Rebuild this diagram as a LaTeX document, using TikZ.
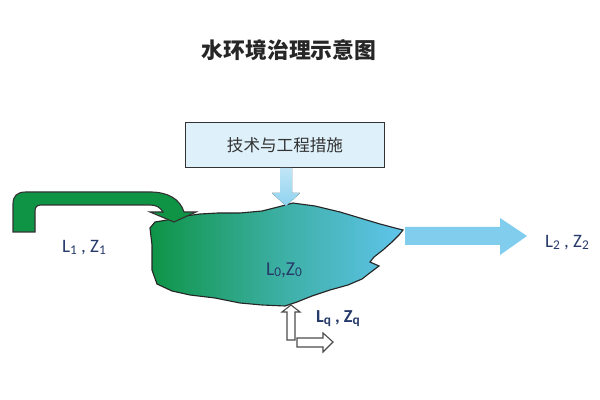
\documentclass[tikz,border=0pt]{standalone}
\usepackage{fontspec}
\setmainfont{Carlito}
\newfontfamily\cjk{Noto Sans CJK SC}
\usetikzlibrary{positioning}
\definecolor{navy}{RGB}{38,58,105}
\definecolor{lakegreen}{RGB}{14,148,70}
\definecolor{lakeblue}{RGB}{96,196,236}
\definecolor{flowgreen}{RGB}{14,148,68}
\definecolor{flowblue}{RGB}{128,205,238}
\definecolor{boxblue}{RGB}{222,240,249}
\newcommand{\lowidx}[1]{\raisebox{-0.2ex}{\fontsize{9.5}{9.5}\selectfont #1}}

\begin{document}
\begin{tikzpicture}[x=0.025cm,y=-0.025cm]
			\tikzset{label/.style = {text=navy, font=\fontsize{13.5}{15}\selectfont}}
			\tikzset{hollow/.style = {draw=black!70, fill=white, line width=0.8pt}}
			\tikzset{measure/.style = {draw=black!80, fill=boxblue, line width=0.8pt,
					minimum width=142pt, minimum height=32pt, inner sep=0pt}}
		\useasboundingbox (0,0) rectangle (600,400);

		% nodes
		\node[font=\cjk\bfseries\fontsize{15.5}{18}\selectfont, text=black!85] (title) at (289,50) {水环境治理示意图};
		\node[measure, font=\cjk\fontsize{11.8}{14}\selectfont, text=black!80] (measures) at (285,145) {技术与工程措施};

		% lake
		\draw[black!85, line width=0.8pt, left color=lakegreen, right color=lakeblue,
			middle color=lakegreen!45!lakeblue]
			(155,222) -- (173,219) -- (185,216) -- (200,214) -- (218,213) -- (240,213)
			-- (262,211) -- (278,207) -- (293,203) -- (300,204) -- (315,206) -- (340,212)
			-- (360,218) -- (380,224) -- (395,228) -- (403,230) -- (399,235) -- (392,242)
			-- (383,250) -- (374,257) -- (370,262) -- (379,266) -- (371,272) -- (362,279)
			-- (348,285) -- (330,290) -- (312,296) -- (297,302) -- (285,306) -- (262,305)
			-- (240,303) -- (215,298) -- (190,295) -- (172,291) -- (157,284) -- (152,270)
			-- (152,245) -- (150,228) -- cycle;
		\node[text=navy, font=\fontsize{14}{16}\selectfont] (lake) at (284,270) {L\lowidx{0},Z\lowidx{0}};

		% inflow
		\draw[black!80, line width=0.8pt, fill=flowgreen]
			(13,232) -- (13,204) .. controls (13,196) and (17,192) .. (26,192) -- (150,192)
			.. controls (168,192) and (180,199) .. (184,212) -- (196,212) -- (174,222)
			-- (150,212) -- (163,212) .. controls (160,207) and (156,205) .. (150,205)
			-- (41,205) .. controls (37,205) and (35,207) .. (35,211) -- (35,232) -- cycle;
		\node[label] (in) at (84,248) {L\lowidx{1} , Z\lowidx{1}};

		% measures onto lake
		\fill[top color=boxblue!70!flowblue, bottom color=flowblue!85!boxblue]
			(280,168) -- (292,168) -- (292,193) -- (300,193) -- (286,206) -- (272,193)
			-- (280,193) -- cycle;

		% outflow
		\fill[flowblue] (405,227) -- (500,227) -- (500,218) -- (527,236) -- (500,255)
			-- (500,245) -- (405,245) -- cycle;
		\node[label] (out) at (567,243) {L\lowidx{2} , Z\lowidx{2}};

		% groundwater exchange
		\draw[hollow] (297,338) -- (323,338) -- (323,333) -- (333,342) -- (323,352)
			-- (323,347) -- (297,347) -- cycle;
		\draw[hollow] (287,340) -- (287,312) -- (282,312) -- (291,305) -- (300,312)
			-- (295,312) -- (295,340) -- cycle;
		\node[label, font=\bfseries\fontsize{13}{15}\selectfont] (exch) at (338,319) {L\lowidx{q} , Z\lowidx{q}};
\end{tikzpicture}
\end{document}
